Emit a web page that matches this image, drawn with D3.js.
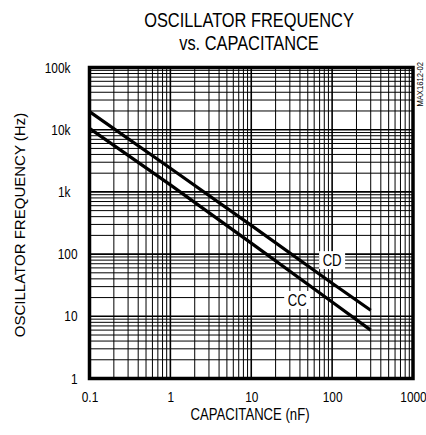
<!DOCTYPE html>
<html>
<head>
<meta charset="utf-8">
<script src="https://cdn.jsdelivr.net/npm/d3@7"></script>
<style>
  body { margin: 0; background: #fff; }
  svg { display: block; }
  text { font-family: "Liberation Sans", Arial, Helvetica, sans-serif; fill: #000; }
</style>
</head>
<body>
<svg id="chart" width="426" height="435"></svg>
<script>
// capacitance (nF) at the points
var capacitance = [0.1, 1, 10, 100, 300];
// oscillator frequency (Hz) for each curve
var freq_cd = [19500, 2400, 290, 34, 12.5];
var freq_cc = [10500, 1300, 150, 17, 6];
var series_names = ["CD", "CC"];
// where the curve labels sit, in data units (nF, Hz)
var label_at = [[100, 80], [37, 18.3]];

var x_ticks = [0.1, 1, 10, 100, 1000];
var x_tick_labels = ["0.1", "1", "10", "100", "1000"];
var y_ticks = [1, 10, 100, 1000, 10000, 100000];
var y_tick_labels = ["1", "10", "100", "1k", "10k", "100k"];

var margin = {left: 89.5, top: 67.5, right: 13, bottom: 56.5};
var width = 426 - margin.left - margin.right;
var height = 435 - margin.top - margin.bottom;
var narrow = 0.82; // squeeze Liberation Sans to look like Helvetica Narrow

var svg = d3.select("#chart");
var g = svg.append("g").attr("transform", "translate(" + margin.left + "," + margin.top + ")");

var xs = d3.scaleLog().domain([0.1, 1000]).range([0, width]);
var ys = d3.scaleLog().domain([1, 100000]).range([height, 0]);

// text helper: placed by translate so the horizontal squeeze doesn't move it
function label(parent, x, y, str, size, sx, anchor) {
	return parent.append("text")
		.attr("transform", "translate(" + x + "," + y + ") scale(" + sx + ",1)")
		.attr("text-anchor", anchor || "middle")
		.attr("font-size", size + "px")
		.text(str);
}

// grid values: 1..9 in every decade
function gridValues(lo, hi) {
	var arr = [];
	for (var p = lo; p < hi; p++) {
		for (var m = 1; m < 10; m++) arr.push(m * Math.pow(10, p));
	}
	arr.push(Math.pow(10, hi));
	return arr;
}
var xgrid = gridValues(-1, 3);
var ygrid = gridValues(0, 5);

g.selectAll(".vgrid")
	.data(xgrid)
	.enter().append("line")
	.attr("x1", function(d) { return xs(d); })
	.attr("x2", function(d) { return xs(d); })
	.attr("y1", 0)
	.attr("y2", height)
	.attr("stroke", "#000")
	.attr("stroke-width", function(d) { return x_ticks.indexOf(d) >= 0 ? 1.6 : 1; });

g.selectAll(".hgrid")
	.data(ygrid)
	.enter().append("line")
	.attr("y1", function(d) { return ys(d); })
	.attr("y2", function(d) { return ys(d); })
	.attr("x1", 0)
	.attr("x2", width)
	.attr("stroke", "#000")
	.attr("stroke-width", function(d) { return y_ticks.indexOf(d) >= 0 ? 1.6 : 1; });

// the curves
var series = [freq_cd, freq_cc];
var line = d3.line()
	.x(function(d, i) { return xs(capacitance[i]); })
	.y(function(d) { return ys(d); });

g.selectAll(".curve")
	.data(series)
	.enter().append("path")
	.attr("fill", "none")
	.attr("stroke", "#000")
	.attr("stroke-width", 3.2)
	.attr("d", line);

// curve labels with white boxes
series_names.forEach(function(name, i) {
	var cx = xs(label_at[i][0]), cy = ys(label_at[i][1]);
	g.append("rect")
		.attr("x", cx - 13)
		.attr("y", cy - 9)
		.attr("width", 26)
		.attr("height", 18)
		.attr("fill", "#fff");
	label(g, cx, cy + 6, name, 16, narrow);
});

// frame
g.append("rect")
	.attr("width", width)
	.attr("height", height)
	.attr("fill", "none")
	.attr("stroke", "#000")
	.attr("stroke-width", 3.5);

// x axis labels
var xAxis = d3.axisBottom(xs)
	.tickValues(x_ticks)
	.tickFormat(function(d, i) { return x_tick_labels[i]; })
	.tickSize(0)
	.tickPadding(13);
var xa = g.append("g").attr("transform", "translate(0," + height + ")").call(xAxis);
xa.select(".domain").remove();
xa.selectAll("text")
	.attr("font-size", "14.5px")
	.attr("font-family", null)
	.attr("transform", "scale(" + narrow + ",1)");

// y axis labels
var yAxis = d3.axisLeft(ys)
	.tickValues(y_ticks)
	.tickFormat(function(d, i) { return y_tick_labels[i]; })
	.tickSize(0)
	.tickPadding(12);
var ya = g.append("g").call(yAxis);
ya.select(".domain").remove();
ya.selectAll("text")
	.attr("font-size", "14.5px")
	.attr("font-family", null)
	.attr("x", -12 / narrow)
	.attr("dx", function(d) { return d >= 1000 ? -7 / narrow : 0; })
	.attr("transform", "scale(" + narrow + ",1)");

// titles
label(svg, 249, 27, "OSCILLATOR FREQUENCY", 20, narrow);
label(svg, 249, 50, "vs. CAPACITANCE", 20, narrow);
label(svg, 250, 420, "CAPACITANCE (nF)", 16, narrow);

svg.append("text")
	.attr("transform", "translate(25," + (margin.top + height / 2 + 2) + ") rotate(-90) scale(0.97,1)")
	.attr("text-anchor", "middle")
	.attr("font-size", "15.5px")
	.text("OSCILLATOR FREQUENCY (Hz)");

svg.append("text")
	.attr("transform", "translate(423,62) rotate(-90) scale(0.85,1)")
	.attr("text-anchor", "end")
	.attr("font-size", "9px")
	.text("MAX1612-02");
</script>
</body>
</html>
